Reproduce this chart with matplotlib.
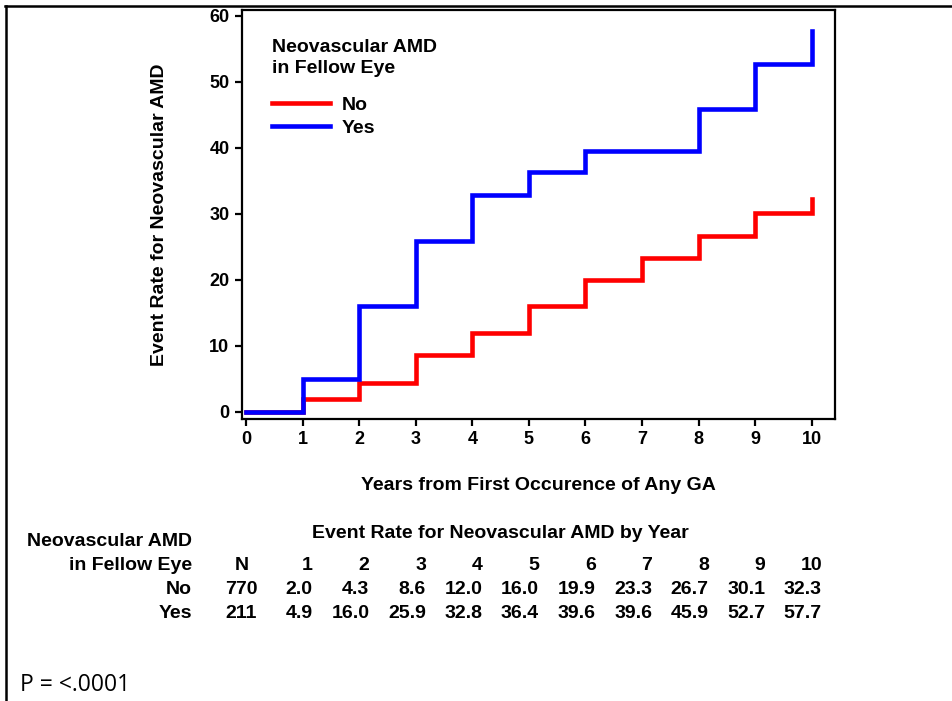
import numpy as np
import matplotlib.pyplot as plt
from matplotlib.lines import Line2D
from matplotlib.transforms import blended_transform_factory

plt.rcParams['font.family'] = ['Liberation Sans', 'DejaVu Sans']
plt.rcParams['font.weight'] = 'bold'

years = np.arange(0, 11)
rate_no = [0, 2.0, 4.3, 8.6, 12.0, 16.0, 19.9, 23.3, 26.7, 30.1, 32.3]
rate_yes = [0, 4.9, 16.0, 25.9, 32.8, 36.4, 39.6, 39.6, 45.9, 52.7, 57.7]
groups = ['No', 'Yes']
group_n = [770, 211]
yticks = [0, 10, 20, 30, 40, 50, 60]

W, H = 953, 701
fig = plt.figure(figsize=(W / 100, H / 100), dpi=100)
ax = fig.add_axes([242 / W, 1 - 419 / H, (835 - 242) / W, (419 - 10) / H])

ax.step(years, rate_no, where='post', color='red', lw=3.3, label='No',
        solid_joinstyle='miter', zorder=2)
ax.step(years, rate_yes, where='post', color='blue', lw=3.3, label='Yes',
        solid_joinstyle='miter', zorder=3)

ax.set_xlim(-0.07, 10.41)
ax.set_ylim(-1.1, 60.9)
ax.set_xticks(years)
ax.set_yticks(yticks)
ax.tick_params(direction='out', length=5, width=1.6, labelsize=13, pad=4)
for s in ax.spines.values():
    s.set_linewidth(1.6)

ax.set_xlabel('Years from First Occurence of Any GA', fontsize=14, fontweight='bold')
ax.xaxis.set_label_coords(0.5, -0.142)
ax.set_ylabel('Event Rate for Neovascular AMD', fontsize=14, fontweight='bold')
ax.yaxis.set_label_coords(-0.125, 0.5)

leg = ax.legend(loc='upper left', bbox_to_anchor=(0.05, 0.93), frameon=False,
                title='Neovascular AMD\nin Fellow Eye', alignment='left',
                fontsize=14, title_fontsize=14, handlelength=3.0,
                handletextpad=0.6, borderpad=0, borderaxespad=0,
                labelspacing=0.25)
leg.get_title().set_fontweight('bold')
leg.get_title().set_linespacing(1.35)
leg._legend_box.sep = 14

# table of event rates below the plot
tr = blended_transform_factory(ax.transData, fig.transFigure)
fy = lambda py: 1 - py / H
fs = 14
ax.text(4.5, fy(533), 'Event Rate for Neovascular AMD by Year', transform=tr,
        ha='center', va='center', fontsize=fs, clip_on=False)
fig.text(192 / W, fy(542), 'Neovascular AMD', ha='right', va='center', fontsize=fs)
fig.text(192 / W, fy(566), 'in Fellow Eye', ha='right', va='center', fontsize=fs)
ax.text(-0.08, fy(566), 'N', transform=tr, ha='center', va='center', fontsize=fs)
for yr in years[1:]:
    ax.text(yr + 0.18, fy(566), str(yr), transform=tr, ha='right', va='center',
            fontsize=fs)
rows = [rate_no, rate_yes]
for i, (g, n, vals) in enumerate(zip(groups, group_n, rows)):
    py = 589 + i * 24
    fig.text(192 / W, fy(py), g, ha='right', va='center', fontsize=fs)
    ax.text(-0.08, fy(py), str(n), transform=tr, ha='center', va='center', fontsize=fs)
    for yr in years[1:]:
        ax.text(yr + 0.18, fy(py), f'{vals[yr]:.1f}', transform=tr, ha='right',
                va='center', fontsize=fs)

fig.text(20 / W, fy(685), 'P = <.0001', ha='left', va='center', fontsize=16.5,
         fontweight='normal', family=['Open Sans', 'DejaVu Sans'])

# outer frame (top and left edges)
fig.add_artist(Line2D([5 / W, 1], [fy(6), fy(6)], color='black', lw=1.8))
fig.add_artist(Line2D([6 / W, 6 / W], [fy(6), 0], color='black', lw=1.8))

fig.savefig('out.png', dpi=100)
